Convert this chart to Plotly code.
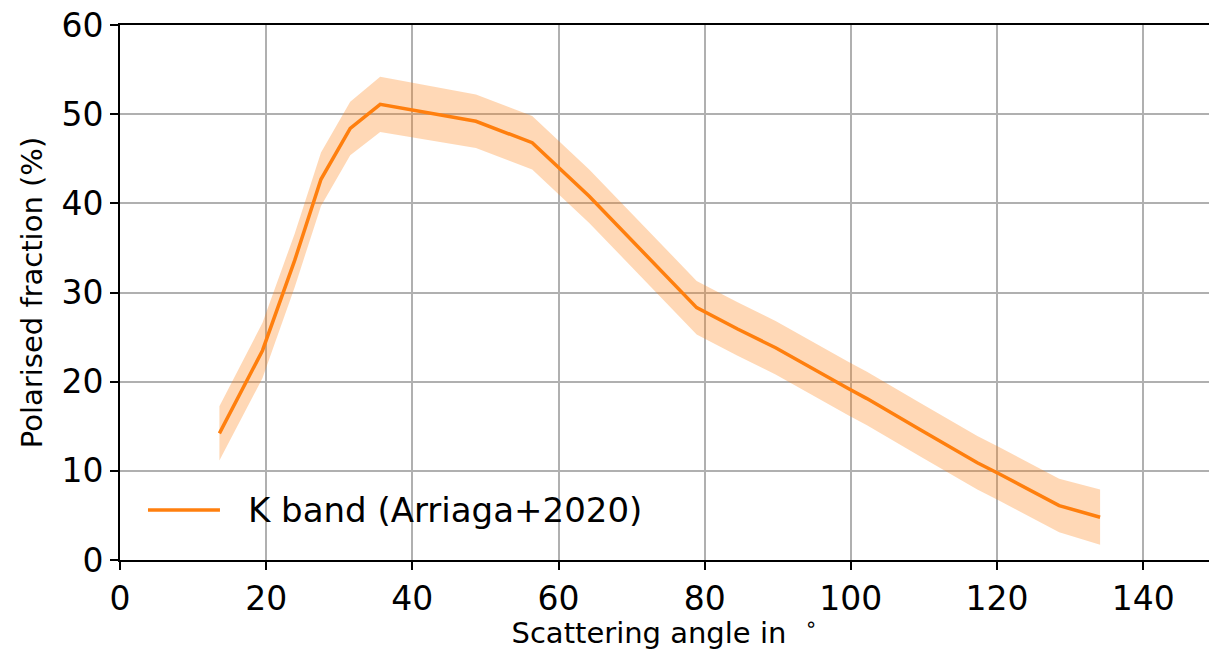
import plotly.graph_objects as go

# Scattering angle (degrees) and polarised fraction (%) for the K band
angle = [13.6, 19.5, 23.9, 27.5, 31.5, 35.6, 48.7, 56.4, 64.2, 78.9,
         84.5, 89.7, 99.7, 102.2, 109.5, 117.3, 120.2, 128.5, 134.1]
pol_frac = [14.2, 23.5, 33.6, 42.7, 48.4, 51.1, 49.2, 46.8, 40.8, 28.3,
            25.9, 23.8, 19.2, 18.1, 14.6, 10.9, 9.7, 6.1, 4.8]
# half-width of the uncertainty envelope (%)
pol_err = [3.05, 3.1, 3.0, 3.0, 3.0, 3.1, 3.0, 3.0, 3.0, 3.0,
           3.0, 3.0, 3.0, 3.0, 3.0, 3.0, 3.0, 3.0, 3.1]

series_name = "K band (Arriaga+2020)"
x_ticks = [0, 20, 40, 60, 80, 100, 120, 140]
y_ticks = [0, 10, 20, 30, 40, 50, 60]

orange = "#ff7f0e"
band = "rgba(255,127,14,0.3)"
font_family = "DejaVu Sans"

upper = [v + e for v, e in zip(pol_frac, pol_err)]
lower = [v - e for v, e in zip(pol_frac, pol_err)]

fig = go.Figure()
fig.add_trace(go.Scatter(x=angle, y=upper, mode="lines", line=dict(width=0),
                         hoverinfo="skip", showlegend=False))
fig.add_trace(go.Scatter(x=angle, y=lower, mode="lines", line=dict(width=0),
                         fill="tonexty", fillcolor=band,
                         hoverinfo="skip", showlegend=False))
fig.add_trace(go.Scatter(x=angle, y=pol_frac, mode="lines", name=series_name,
                         line=dict(color=orange, width=3.5), showlegend=False))

# legend entry drawn in the lower-left corner of the axes
fig.add_shape(type="line", xref="paper", yref="paper",
              x0=0.0257, x1=0.0918, y0=0.0935, y1=0.0935,
              line=dict(color=orange, width=3.5))
fig.add_annotation(xref="paper", yref="paper", x=0.1155, y=0.0935,
                   xanchor="left", yanchor="middle", showarrow=False,
                   text=series_name,
                   font=dict(family=font_family, size=34, color="black"))

axis_common = dict(
    showgrid=True, gridcolor="#b0b0b0", gridwidth=1.8,
    showline=True, linecolor="black", linewidth=1.9,
    ticks="outside", ticklen=8, tickwidth=1.9, tickcolor="black",
    zeroline=False,
    tickfont=dict(family=font_family, size=33, color="black"),
)

fig.update_layout(
    width=1209, height=650,
    margin=dict(l=120, r=0, t=25, b=90),
    paper_bgcolor="white", plot_bgcolor="white",
    font=dict(family=font_family, color="black"),
    xaxis=dict(range=[0, 149], tickvals=x_ticks, mirror=True,
               title=dict(text="Scattering angle in&nbsp;&nbsp;<sup>∘</sup>",
                          font=dict(family=font_family, size=29), standoff=10),
               **axis_common),
    yaxis=dict(range=[0, 60], tickvals=y_ticks,
               title=dict(text="Polarised fraction (%)",
                          font=dict(family=font_family, size=29), standoff=10),
               **axis_common),
)

fig.write_html("out.html")
